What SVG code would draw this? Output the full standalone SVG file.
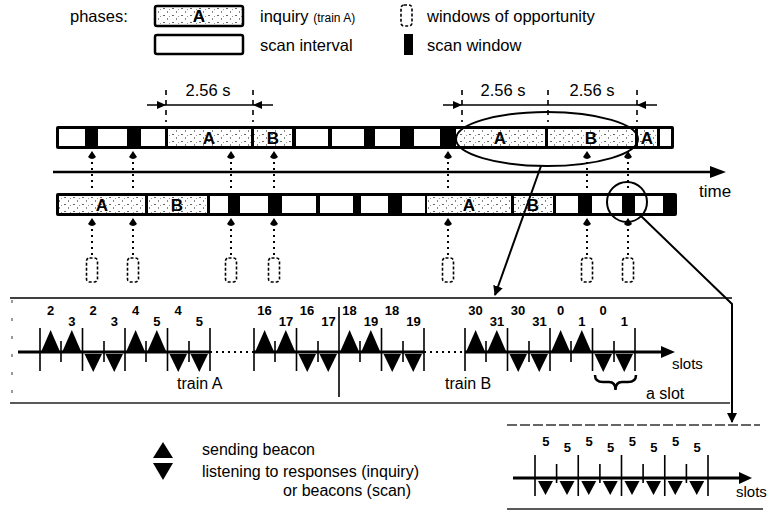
<svg xmlns="http://www.w3.org/2000/svg" xmlns:xlink="http://www.w3.org/1999/xlink" width="770" height="514" viewBox="0 0 770 514">
<defs>
<style>
.t{font-family:"Liberation Sans",Arial,Helvetica,sans-serif;fill:#000}
.lg{font-size:16.5px}
.sm{font-size:12px}
.b{font-weight:bold}
.L{font-size:17px;font-weight:bold;text-anchor:middle}
.num{font-size:13px;font-weight:bold;text-anchor:middle}
.dot{stroke:#000;stroke-width:2;stroke-dasharray:2 4;fill:none}
.win{fill:none;stroke:#000;stroke-width:1.6;stroke-dasharray:3 2}
.ln{stroke:#000;stroke-width:1.6;fill:none}
.tk{stroke:#000;stroke-width:1.6;fill:none;stroke-dasharray:5 5}
.wt{fill:#fff}
.st{fill:url(#stip)}
.con{stroke:#000;stroke-width:2;fill:none}
</style>
<pattern id="stip" width="9" height="7" patternUnits="userSpaceOnUse">
<rect width="9" height="7" fill="#fff"/>
<rect x="1" y="1" width="2" height="1" fill="#666"/>
<rect x="5" y="4" width="1" height="2" fill="#888"/>
<rect x="7" y="2" width="1" height="1" fill="#999"/>
</pattern>
<path id="tear" d="M0,0 L4,6 Q0,10 -4,6 Z" fill="#000"/>
<path id="up" d="M0,0 L9.6,-22 L19.2,0 Z" fill="#000"/>
<path id="dn" d="M0,0 L17.5,0 L8.75,18 Z" fill="#000"/>
<path id="dn2" d="M0,0 L15,0 L7.5,14 Z" fill="#000"/>
<marker id="arr" viewBox="0 0 10 10" refX="9" refY="5" markerWidth="5" markerHeight="5" orient="auto" markerUnits="strokeWidth">
<path d="M0,0 L10,5 L0,10 Z" fill="#000"/>
</marker>
</defs>
<rect width="770" height="514" fill="#fff"/>

<g id="legend">
<text class="t lg" x="70" y="22">phases:</text>
<rect x="155" y="6" width="88" height="20" rx="2" class="st" stroke="#000" stroke-width="2.5"/>
<text class="t L" x="199" y="22">A</text>
<text class="t lg" x="260" y="22">inquiry <tspan class="sm">(train A)</tspan></text>
<rect x="401" y="5" width="11" height="21" rx="3" class="win"/>
<text class="t lg" x="427" y="22">windows of opportunity</text>
<rect x="155" y="35" width="88" height="19" rx="2" fill="#fff" stroke="#000" stroke-width="2.5"/>
<text class="t lg" x="260" y="51">scan interval</text>
<rect x="404" y="34" width="9" height="21" fill="#000"/>
<text class="t lg" x="427" y="51">scan window</text>
</g>

<g id="dimensions">
<line class="tk" x1="166" y1="90" x2="166" y2="122"/>
<line class="tk" x1="253" y1="90" x2="253" y2="122"/>
<line class="ln" x1="147" y1="105" x2="273" y2="105" stroke-width="2"/>
<path d="M166,105 L157,101 L157,109 Z M253,105 L262,101 L262,109 Z" fill="#000"/>
<text class="t lg" x="208" y="96" text-anchor="middle">2.56 s</text>
<line class="tk" x1="462" y1="90" x2="462" y2="122"/>
<line class="tk" x1="548" y1="90" x2="548" y2="122"/>
<line class="tk" x1="637" y1="90" x2="637" y2="122"/>
<line class="ln" x1="443" y1="105" x2="657" y2="105" stroke-width="2"/>
<path d="M462,105 L453,101 L453,109 Z M637,105 L646,101 L646,109 Z" fill="#000"/>
<text class="t lg" x="503" y="96" text-anchor="middle">2.56 s</text>
<text class="t lg" x="592" y="96" text-anchor="middle">2.56 s</text>
</g>

<g id="device1">
<rect x="56" y="126" width="618" height="23" rx="2" fill="#000"/>
<rect class="wt" x="59" y="129" width="26" height="17"/>
<rect class="wt" x="98" y="129" width="29" height="17"/>
<rect class="wt" x="141" y="129" width="24" height="17"/>
<rect class="st" x="168" y="129" width="83" height="17"/>
<rect class="st" x="254" y="129" width="38" height="17"/>
<rect class="wt" x="296" y="129" width="32" height="17"/>
<rect class="wt" x="332" y="129" width="32" height="17"/>
<rect class="wt" x="375" y="129" width="25" height="17"/>
<rect class="wt" x="414" y="129" width="26" height="17"/>
<rect class="st" x="456" y="129" width="89" height="17"/>
<rect class="st" x="548" y="129" width="87" height="17"/>
<rect class="st" x="638" y="129" width="19" height="17"/>
<rect class="wt" x="660" y="129" width="11" height="17"/>
<text class="t L" x="209" y="144">A</text>
<text class="t L" x="273" y="144">B</text>
<text class="t L" x="500" y="144">A</text>
<text class="t L" x="591" y="144">B</text>
<text class="t L" x="647" y="144">A</text>
</g>

<g id="device2">
<rect x="56" y="193" width="621" height="23" rx="2" fill="#000"/>
<rect class="st" x="59" y="196" width="86" height="17"/>
<rect class="st" x="148" y="196" width="59" height="17"/>
<rect class="wt" x="210" y="196" width="18" height="17"/>
<rect class="wt" x="240" y="196" width="28" height="17"/>
<rect class="wt" x="282" y="196" width="34" height="17"/>
<rect class="wt" x="320" y="196" width="33" height="17"/>
<rect class="wt" x="361" y="196" width="27" height="17"/>
<rect class="wt" x="402" y="196" width="23" height="17"/>
<rect class="st" x="427" y="196" width="84" height="17"/>
<rect class="st" x="514" y="196" width="39" height="17"/>
<rect class="wt" x="556" y="196" width="22" height="17"/>
<rect class="wt" x="592" y="196" width="30" height="17"/>
<rect class="wt" x="635" y="196" width="28" height="17"/>
<text class="t L" x="102" y="211">A</text>
<text class="t L" x="177" y="211">B</text>
<text class="t L" x="469" y="211">A</text>
<text class="t L" x="533" y="211">B</text>
</g>

<g id="time-axis">
<line x1="53" y1="172" x2="712" y2="172" stroke="#000" stroke-width="2.5"/>
<path d="M726,172 L710,166 L710,178 Z" fill="#000"/>
<text class="t" x="699" y="197" font-size="17">time</text>
</g>

<g id="windows">
<use xlink:href="#tear" x="92" y="151"/><use xlink:href="#tear" x="133" y="151"/><use xlink:href="#tear" x="231" y="151"/><use xlink:href="#tear" x="274" y="151"/><use xlink:href="#tear" x="448" y="151"/><use xlink:href="#tear" x="587" y="151"/><use xlink:href="#tear" x="628" y="151"/>
<use xlink:href="#tear" x="92" y="218"/><use xlink:href="#tear" x="133" y="218"/><use xlink:href="#tear" x="231" y="218"/><use xlink:href="#tear" x="274" y="218"/><use xlink:href="#tear" x="448" y="218"/><use xlink:href="#tear" x="587" y="218"/><use xlink:href="#tear" x="628" y="218"/>
<path class="dot" d="M92,162V191M133,162V191M231,162V191M274,162V191M448,162V191M587,162V191M628,162V191"/>
<path class="dot" d="M92,229V256M133,229V256M231,229V256M274,229V256M448,229V256M587,229V256M628,229V256"/>
<rect class="win" x="86.5" y="258" width="11" height="24" rx="3"/>
<rect class="win" x="127.5" y="258" width="11" height="24" rx="3"/>
<rect class="win" x="225.5" y="258" width="11" height="24" rx="3"/>
<rect class="win" x="268.5" y="258" width="11" height="24" rx="3"/>
<rect class="win" x="442.5" y="258" width="11" height="24" rx="3"/>
<rect class="win" x="581.5" y="258" width="11" height="24" rx="3"/>
<rect class="win" x="622.5" y="258" width="11" height="24" rx="3"/>
</g>

<g id="inquiry-detail">
<line x1="10" y1="298" x2="732" y2="298" stroke="#000" stroke-width="1.6"/>
<line x1="10" y1="403" x2="730" y2="403" stroke="#222" stroke-width="1.4"/>
<line x1="12" y1="300" x2="12" y2="401" stroke="#555" stroke-width="1.2" stroke-dasharray="3 15"/>
<path d="M18,352H210M254,352H424M465,352H665" stroke="#000" stroke-width="3"/>
<path class="dot" d="M210,352H254M424,352H465"/>
<path d="M675,352 L661,346 L661,358 Z" fill="#000"/>
<path class="ln" d="M40,328V371M82.5,328V371M125,328V371M167.5,328V371M210,328V371M254,328V371M296.5,328V371M381.5,328V371M424,328V371M465,328V371M507.5,328V371M550,328V371M592.5,328V371M635,328V371"/>
<path class="ln" d="M339,307V397" stroke-width="2"/>
<path class="ln" d="M61,341V362M104,341V362M146,341V362M189,341V362M275,341V362M318,341V362M360,341V362M403,341V362M486,341V362M529,341V362M571,341V362M614,341V362"/>
<use xlink:href="#up" x="41" y="352"/><use xlink:href="#up" x="62.2" y="352"/>
<use xlink:href="#up" x="126" y="352"/><use xlink:href="#up" x="147.2" y="352"/>
<use xlink:href="#up" x="255" y="352"/><use xlink:href="#up" x="276.2" y="352"/>
<use xlink:href="#up" x="340" y="352"/><use xlink:href="#up" x="361.2" y="352"/>
<use xlink:href="#up" x="466" y="352"/><use xlink:href="#up" x="487.2" y="352"/>
<use xlink:href="#up" x="551" y="352"/><use xlink:href="#up" x="572.2" y="352"/>
<use xlink:href="#dn" x="84.5" y="354"/><use xlink:href="#dn" x="105.5" y="354"/>
<use xlink:href="#dn" x="169.5" y="354"/><use xlink:href="#dn" x="190.5" y="354"/>
<use xlink:href="#dn" x="298.5" y="354"/><use xlink:href="#dn" x="319.5" y="354"/>
<use xlink:href="#dn" x="383.5" y="354"/><use xlink:href="#dn" x="404.5" y="354"/>
<use xlink:href="#dn" x="509.5" y="354"/><use xlink:href="#dn" x="530.5" y="354"/>
<use xlink:href="#dn" x="594.5" y="354"/><use xlink:href="#dn" x="615.5" y="354"/>
<text class="t num" x="50.6" y="315">2</text><text class="t num" x="71.9" y="326">3</text>
<text class="t num" x="93.1" y="315">2</text><text class="t num" x="114.4" y="326">3</text>
<text class="t num" x="135.6" y="315">4</text><text class="t num" x="156.9" y="326">5</text>
<text class="t num" x="178.1" y="315">4</text><text class="t num" x="199.4" y="326">5</text>
<text class="t num" x="264.6" y="315">16</text><text class="t num" x="285.9" y="326">17</text>
<text class="t num" x="307.1" y="315">16</text><text class="t num" x="328.4" y="326">17</text>
<text class="t num" x="349.6" y="315">18</text><text class="t num" x="370.9" y="326">19</text>
<text class="t num" x="392.1" y="315">18</text><text class="t num" x="413.4" y="326">19</text>
<text class="t num" x="475.6" y="315">30</text><text class="t num" x="496.9" y="326">31</text>
<text class="t num" x="518.1" y="315">30</text><text class="t num" x="539.4" y="326">31</text>
<text class="t num" x="560.6" y="315">0</text><text class="t num" x="581.9" y="326">1</text>
<text class="t num" x="603.1" y="315">0</text><text class="t num" x="624.4" y="326">1</text>
<text class="t" x="177" y="389" font-size="16">train A</text>
<text class="t" x="445" y="389" font-size="16">train B</text>
<text class="t" x="672" y="369" font-size="15">slots</text>
<path d="M595,375 Q595,382 603,382 L609,382 Q615.5,382 615.5,390 Q615.5,382 622,382 L628,382 Q636,382 636,375" stroke="#000" stroke-width="2.5" fill="none"/>
<text class="t" x="646" y="399" font-size="16">a slot</text>
</g>

<g id="scan-detail">
<line x1="507" y1="425" x2="760" y2="425" stroke="#333" stroke-width="1.4" stroke-dasharray="10 3"/>
<line x1="507" y1="509" x2="763" y2="509" stroke="#222" stroke-width="1.4"/>
<line x1="513" y1="478" x2="742" y2="478" stroke="#000" stroke-width="3"/>
<path d="M752,478 L739,472 L739,484 Z" fill="#000"/>
<path class="ln" d="M535,455V496M578.25,455V496M621.5,455V496M664.75,455V496M708,455V496"/>
<path class="ln" d="M556.6,464V483M599.9,464V483M643.1,464V483M686.4,464V483"/>
<use xlink:href="#dn2" x="538" y="481"/><use xlink:href="#dn2" x="559.5" y="481"/>
<use xlink:href="#dn2" x="581.25" y="481"/><use xlink:href="#dn2" x="602.75" y="481"/>
<use xlink:href="#dn2" x="624.5" y="481"/><use xlink:href="#dn2" x="646" y="481"/>
<use xlink:href="#dn2" x="667.75" y="481"/><use xlink:href="#dn2" x="689.25" y="481"/>
<text class="t num" x="545.8" y="446">5</text><text class="t num" x="567.4" y="452">5</text>
<text class="t num" x="589" y="446">5</text><text class="t num" x="610.6" y="452">5</text>
<text class="t num" x="632.3" y="446">5</text><text class="t num" x="653.9" y="452">5</text>
<text class="t num" x="675.5" y="446">5</text><text class="t num" x="697.1" y="452">5</text>
<text class="t" x="736" y="497" font-size="15">slots</text>
</g>

<g id="legend2">
<path d="M153,458 L163,442 L173,458 Z" fill="#000"/>
<path d="M153,463 L173,463 L163,480 Z" fill="#000"/>
<text class="t" x="202" y="455" font-size="16">sending beacon</text>
<text class="t" x="202" y="477" font-size="16">listening to responses (inquiry)</text>
<text class="t" x="283" y="496" font-size="16">or beacons (scan)</text>
</g>

<g id="connectors">
<ellipse cx="547" cy="139" rx="91" ry="27" class="con" stroke-width="2.5"/>
<circle cx="627" cy="202" r="20" class="con" stroke-width="2.5"/>
<line x1="541" y1="166" x2="495" y2="295" class="con" marker-end="url(#arr)"/>
<polyline points="641,216 732,304 732,422" class="con" marker-end="url(#arr)"/>
</g>
</svg>
